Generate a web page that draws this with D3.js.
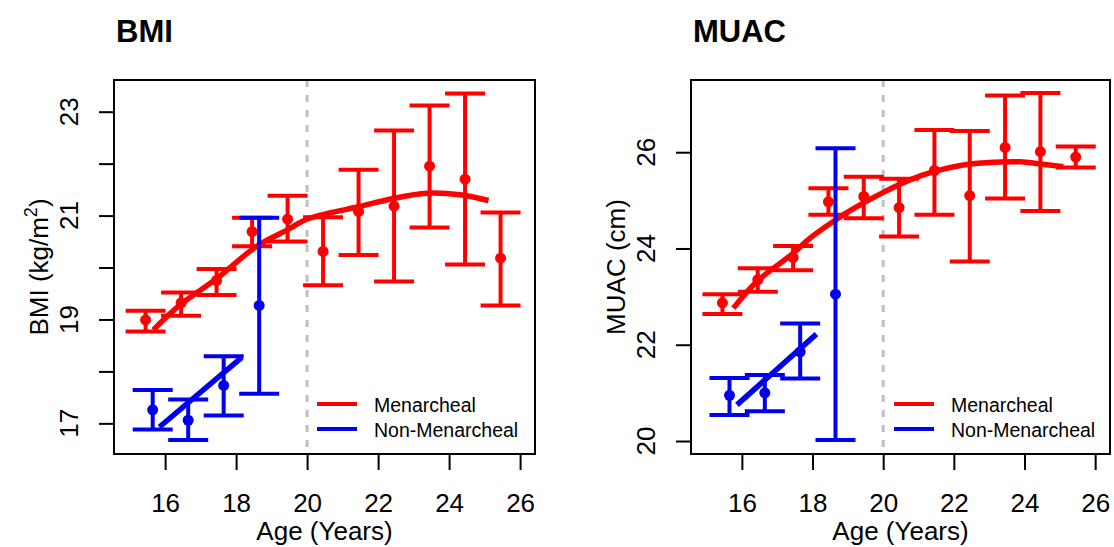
<!DOCTYPE html>
<html>
<head>
<meta charset="utf-8">
<script src="https://cdn.jsdelivr.net/npm/d3@7"></script>
<style>
  body { margin: 0; background: #fff; }
  svg { font-family: "Liberation Sans", Arial, sans-serif; }
</style>
</head>
<body>
<svg id="chart" width="1114" height="547"></svg>
<script>
// ages of the group means
var ageMen = [15.45, 16.45, 17.45, 18.45, 19.45, 20.45, 21.45, 22.45, 23.45, 24.45, 25.45];
var ageNon = [15.65, 16.65, 17.65, 18.65];

// BMI
var bmiMen      = [18.99, 19.32, 19.75, 20.69, 20.93, 20.31, 21.08, 21.18, 21.95, 21.70, 20.18];
var bmiMenLow   = [18.77, 19.07, 19.47, 20.41, 20.50, 19.66, 20.24, 19.73, 20.77, 20.06, 19.27];
var bmiMenHigh  = [19.17, 19.52, 19.97, 20.96, 21.38, 20.97, 21.88, 22.64, 23.12, 23.35, 21.06];
var bmiNon      = [17.26, 17.06, 17.73, 19.27];
var bmiNonLow   = [16.88, 16.68, 17.15, 17.57];
var bmiNonHigh  = [17.64, 17.46, 18.29, 20.96];
var bmiFitAge   = [15.67, 16.42, 17.46, 18.58, 19.43, 19.99, 20.70, 21.45, 22.43, 23.37, 24.31, 25.11];
var bmiFit      = [18.80, 19.28, 19.79, 20.41, 20.72, 20.93, 21.06, 21.17, 21.33, 21.43, 21.40, 21.29];
var bmiNonFitAge = [15.84, 18.16];
var bmiNonFit    = [16.93, 18.27];

// MUAC
var muacMen      = [22.87, 23.35, 23.81, 24.97, 25.08, 24.85, 25.62, 25.10, 26.10, 26.01, 25.90];
var muacMenLow   = [22.64, 23.10, 23.55, 24.70, 24.63, 24.25, 24.70, 23.73, 25.04, 24.78, 25.68];
var muacMenHigh  = [23.05, 23.59, 24.05, 25.25, 25.49, 25.45, 26.46, 26.44, 27.18, 27.23, 26.12];
var muacNon      = [20.95, 21.00, 21.85, 23.05];
var muacNonLow   = [20.54, 20.62, 21.30, 20.02];
var muacNonHigh  = [21.31, 21.37, 22.44, 26.08];
var muacFitAge   = [15.76, 16.42, 17.45, 17.92, 18.77, 19.43, 19.99, 20.74, 21.45, 22.15, 22.90, 23.89, 24.40, 25.10];
var muacFit      = [22.76, 23.31, 23.90, 24.21, 24.65, 24.94, 25.16, 25.42, 25.60, 25.72, 25.78, 25.80, 25.76, 25.70];
var muacNonFitAge = [15.86, 18.11];
var muacNonFit    = [20.75, 22.22];

var xTicks = [16, 18, 20, 22, 24, 26];
var bmiTicks = [17, 18, 19, 20, 21, 22, 23];
var bmiLabels = [17, 19, 21, 23];
var muacTicks = [20, 22, 24, 26];
var legendNames = ["Menarcheal", "Non-Menarcheal"];

var RED = "#ff0000", BLUE = "#0000ee";
var svg = d3.select("#chart");

function zip(a, b, c, d) {
    return a.map(function(v, i) { return {x: v, y: b[i], lo: c ? c[i] : null, hi: d ? d[i] : null}; });
}

function drawPanel(p) {
    var left = p.left, right = p.right, top = 80, bottom = 454;
    var x = d3.scaleLinear().domain([14.56, 26.42]).range([left, right]);
    var y = d3.scaleLinear().domain(p.yDomain).range([bottom, top]);
    var g = svg.append("g");

    // title
    g.append("text")
        .attr("x", left + 2).attr("y", 42)
        .attr("font-size", 31).attr("font-weight", "bold")
        .text(p.title);

    // reference line at age 20
    g.append("line")
        .attr("x1", x(20)).attr("x2", x(20))
        .attr("y1", top).attr("y2", bottom)
        .attr("stroke", "#c0c0c0").attr("stroke-width", 3)
        .attr("stroke-dasharray", "7,8");

    // x axis
    var xa = g.append("g").attr("transform", "translate(0," + bottom + ")")
        .call(d3.axisBottom(x).tickValues(xTicks).tickSize(16).tickPadding(24).tickFormat(d3.format("d")));
    xa.select(".domain").remove();
    xa.selectAll("line").attr("stroke", "#000").attr("stroke-width", 2);
    xa.selectAll("text").attr("font-size", 26).attr("fill", "#000")
        .attr("font-family", "Liberation Sans, Arial, sans-serif");

    // y axis
    var ya = g.append("g").attr("transform", "translate(" + left + ",0)")
        .call(d3.axisLeft(y).tickValues(p.yTicks).tickSize(15).tickFormat(""));
    ya.select(".domain").remove();
    ya.selectAll("line").attr("stroke", "#000").attr("stroke-width", 2);
    g.selectAll(".ylab").data(p.yLabels).enter().append("text")
        .attr("transform", function(d) { return "translate(" + (left - 36) + "," + y(d) + ") rotate(-90)"; })
        .attr("text-anchor", "middle")
        .attr("font-size", 26)
        .text(function(d) { return d; });

    // axis titles
    g.append("text")
        .attr("x", (left + right) / 2).attr("y", 540)
        .attr("text-anchor", "middle").attr("font-size", 26)
        .text("Age (Years)");
    var yt = g.append("text")
        .attr("transform", "translate(" + (left - 66) + "," + ((top + bottom) / 2) + ") rotate(-90)")
        .attr("text-anchor", "middle").attr("font-size", 26);
    yt.append("tspan").text(p.yTitle[0]);
    if (p.yTitle.length > 1) {
        yt.append("tspan").attr("dy", -11).attr("font-size", 18).text(p.yTitle[1]);
        yt.append("tspan").attr("dy", 11).text(p.yTitle[2]);
    }

    // fitted lines
    var line = d3.line().x(function(d) { return x(d.x); }).y(function(d) { return y(d.y); })
        .curve(d3.curveCatmullRom.alpha(0.5));
    g.append("path").datum(zip(p.fitAge, p.fit))
        .attr("d", line).attr("fill", "none")
        .attr("stroke", RED).attr("stroke-width", 5.5);
    g.append("path").datum(zip(p.nonFitAge, p.nonFit))
        .attr("d", line).attr("fill", "none")
        .attr("stroke", BLUE).attr("stroke-width", 5.5);

    // error bars + means
    [[zip(ageMen, p.men, p.menLow, p.menHigh), RED], [zip(ageNon, p.non, p.nonLow, p.nonHigh), BLUE]]
    .forEach(function(s) {
        var data = s[0], col = s[1];
        var eb = g.append("g").attr("stroke", col).attr("stroke-width", 4).attr("fill", "none");
        eb.selectAll(".v").data(data).enter().append("line")
            .attr("x1", function(d) { return x(d.x); }).attr("x2", function(d) { return x(d.x); })
            .attr("y1", function(d) { return y(d.lo); }).attr("y2", function(d) { return y(d.hi); });
        ["lo", "hi"].forEach(function(k) {
            eb.selectAll(".c" + k).data(data).enter().append("line")
                .attr("x1", function(d) { return x(d.x) - 20; }).attr("x2", function(d) { return x(d.x) + 20; })
                .attr("y1", function(d) { return y(d[k]); }).attr("y2", function(d) { return y(d[k]); });
        });
        g.selectAll(".pt").data(data).enter().append("circle")
            .attr("cx", function(d) { return x(d.x); })
            .attr("cy", function(d) { return y(d.y); })
            .attr("r", 5.5).attr("fill", col);
    });

    // legend
    [RED, BLUE].forEach(function(col, i) {
        g.append("line")
            .attr("x1", left + 203).attr("x2", left + 243)
            .attr("y1", 404 + i * 25).attr("y2", 404 + i * 25)
            .attr("stroke", col).attr("stroke-width", 4);
        g.append("text")
            .attr("x", left + 260).attr("y", 412 + i * 25)
            .attr("font-size", 19.5)
            .text(legendNames[i]);
    });

    // box
    g.append("rect")
        .attr("x", left).attr("y", top)
        .attr("width", right - left).attr("height", bottom - top)
        .attr("fill", "none").attr("stroke", "#000").attr("stroke-width", 2);
}

drawPanel({
    title: "BMI", left: 114, right: 535, yDomain: [16.41, 23.61],
    yTicks: bmiTicks, yLabels: bmiLabels, yTitle: ["BMI (kg/m", "2", ")"],
    men: bmiMen, menLow: bmiMenLow, menHigh: bmiMenHigh,
    non: bmiNon, nonLow: bmiNonLow, nonHigh: bmiNonHigh,
    fitAge: bmiFitAge, fit: bmiFit, nonFitAge: bmiNonFitAge, nonFit: bmiNonFit
});

drawPanel({
    title: "MUAC", left: 691, right: 1110, yDomain: [19.73, 27.50],
    yTicks: muacTicks, yLabels: muacTicks, yTitle: ["MUAC (cm)"],
    men: muacMen, menLow: muacMenLow, menHigh: muacMenHigh,
    non: muacNon, nonLow: muacNonLow, nonHigh: muacNonHigh,
    fitAge: muacFitAge, fit: muacFit, nonFitAge: muacNonFitAge, nonFit: muacNonFit
});
</script>
</body>
</html>
